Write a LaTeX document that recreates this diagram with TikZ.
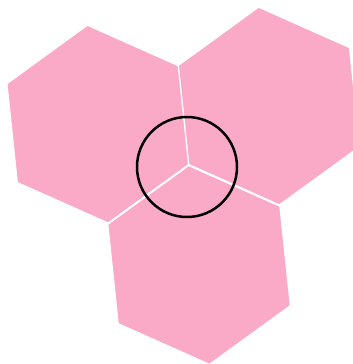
\documentclass[tikz,border=0pt]{standalone}
\usetikzlibrary{calc}
\definecolor{hexpink}{RGB}{250,170,198}
\tikzset{
  hexcell/.style={fill=hexpink, draw=white, line width=1.3pt, line join=miter},
  ring/.style={draw=black, line width=2.5pt}
}
\begin{document}
\begin{tikzpicture}[x=1pt,y=1pt]
  \useasboundingbox (0,0) rectangle (353,364);
  \coordinate (C) at (188.5,199.5);
  \foreach \a/\d/\r in {36/99.5/99.5,156/99.3/99.5,276/101/100} {
    \path[hexcell, shift={(C)}, shift={(\a:\d pt)}]
      (\a:\r pt) -- (\a+60:\r pt) -- (\a+120:\r pt) -- (\a+180:\r pt)
      -- (\a+240:\r pt) -- (\a+300:\r pt) -- cycle;
  }
  \node[ring, circle, minimum size=100pt, inner sep=0pt] (ringnode) at (187,197) {};
\end{tikzpicture}
\end{document}
